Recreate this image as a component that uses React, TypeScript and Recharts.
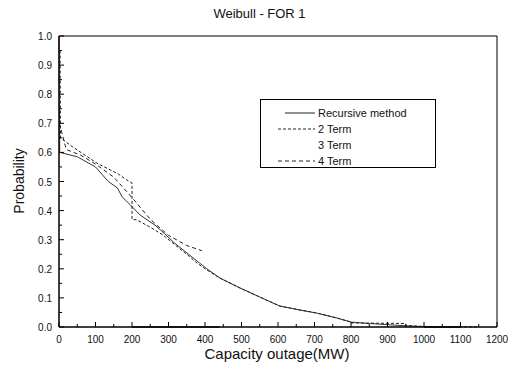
import { LineChart, Line, XAxis, YAxis, ReferenceArea } from 'recharts';

const xTicks = [0, 50, 100, 150, 200, 250, 300, 350, 400, 450, 500, 550, 600, 650, 700, 750, 800, 850, 900, 950, 1000, 1050, 1100, 1150, 1200];
const yTicks = [0, 0.05, 0.1, 0.15, 0.2, 0.25, 0.3, 0.35, 0.4, 0.45, 0.5, 0.55, 0.6, 0.65, 0.7, 0.75, 0.8, 0.85, 0.9, 0.95, 1.0];

// capacity outage (MW) / probability pairs
const recursiveX = [0, 2, 50, 100, 135, 160, 173, 195, 222, 263, 290, 315, 355, 385, 405, 441, 496, 550, 605, 660, 706, 761, 800, 850, 900, 950, 1000, 1100];
const recursiveP = [1.0, 0.6, 0.585, 0.55, 0.5, 0.478, 0.447, 0.42, 0.385, 0.35, 0.32, 0.29, 0.25, 0.22, 0.2, 0.168, 0.134, 0.103, 0.072, 0.058, 0.048, 0.031, 0.017, 0.012, 0.008, 0.004, 0.001, 0];

const term2X = [3, 4, 36, 104, 162, 186, 200, 200, 213, 250, 285, 320, 350, 378, 405, 441, 496, 550, 605, 706, 761, 800, 800, 950, 950, 1000, 1150];
const term2P = [0.95, 0.65, 0.62, 0.563, 0.526, 0.505, 0.495, 0.37, 0.368, 0.343, 0.316, 0.28, 0.25, 0.22, 0.196, 0.168, 0.134, 0.103, 0.072, 0.048, 0.031, 0.017, 0.014, 0.012, 0.005, 0.002, 0];

const term3X = [200, 440, 441, 1000, 1100];
const term3P = [0, 0, null, 0, 0];

const term4X = [1, 20, 60, 100, 150, 200, 250, 300, 350, 392];
const term4P = [0.7, 0.61, 0.59, 0.56, 0.515, 0.445, 0.37, 0.315, 0.28, 0.262];

const build = (xs: number[], ps: (number | null)[]) => xs.map((x, i) => ({ x, p: ps[i] }));

const fontFamily = 'Arial, "Liberation Sans", Helvetica, sans-serif';

const XTick = ({ x, y, payload }: any) => {
  const v = payload.value;
  const major = v % 100 === 0;
  return (
    <g>
      <line x1={x} x2={x} y1={y} y2={y - (major ? 5 : 3)} stroke="#000" strokeWidth={1} />
      {major && (
        <text x={x} y={y + 16} textAnchor="middle" fontSize={10} fill="#111" fontFamily={fontFamily}>
          {v}
        </text>
      )}
    </g>
  );
};

const YTick = ({ x, y, payload }: any) => {
  const v = payload.value;
  const major = Math.round(v * 100) % 10 === 0;
  return (
    <g>
      <line x1={x} x2={x + (major ? 5 : 3)} y1={y} y2={y} stroke="#000" strokeWidth={1} />
      {major && (
        <text x={x - 7} y={y + 4} textAnchor="end" fontSize={10} fill="#111" fontFamily={fontFamily}>
          {v.toFixed(1)}
        </text>
      )}
    </g>
  );
};

const legendRows = [
  { name: 'Recursive method', dash: undefined as string | undefined, x1: 285, show: true },
  { name: '2 Term', dash: '3 2', x1: 278, show: true },
  { name: '3 Term', dash: '1 3', x1: 285, show: false },
  { name: '4 Term', dash: '4 3', x1: 278, show: true },
];

export default function App() {
  return (
    <div style={{ position: 'absolute', left: 0, top: 0, width: 519, height: 374, background: '#fff', fontFamily }}>
      <div style={{ position: 'absolute', left: 0, width: 519, top: 6, textAlign: 'center', fontSize: 13, color: '#111' }}>
        Weibull - FOR 1
      </div>
      <div
        style={{
          position: 'absolute',
          left: 19,
          top: 181,
          transform: 'translate(-50%, -50%) rotate(-90deg)',
          fontSize: 14,
          color: '#111',
          whiteSpace: 'nowrap',
        }}
      >
        Probability
      </div>
      <div style={{ position: 'absolute', left: 0, width: 554, textAlign: 'center', top: 345, fontSize: 15, color: '#111' }}>
        Capacity outage(MW)
      </div>
      <LineChart width={519} height={374} margin={{ top: 36, right: 22, bottom: 27, left: 29 }}>
        <XAxis
          type="number"
          dataKey="x"
          domain={[0, 1200]}
          ticks={xTicks}
          interval={0}
          tickLine={false}
          tickSize={0}
          tickMargin={0}
          height={20}
          stroke="#000"
          tick={<XTick />}
          allowDuplicatedCategory={false}
        />
        <YAxis
          type="number"
          dataKey="p"
          domain={[0, 1]}
          ticks={yTicks}
          interval={0}
          tickLine={false}
          tickSize={0}
          tickMargin={0}
          width={30}
          stroke="#000"
          tick={<YTick />}
        />
        <ReferenceArea x1={0} x2={1200} y1={0} y2={1} fill="none" stroke="#000" strokeWidth={1} ifOverflow="visible" />
        <Line data={build(recursiveX, recursiveP)} dataKey="p" type="linear" stroke="#333" strokeWidth={1} dot={false} isAnimationActive={false} />
        <Line data={build(term2X, term2P)} dataKey="p" type="linear" stroke="#222" strokeWidth={1} strokeDasharray="3 2" dot={false} isAnimationActive={false} />
        <Line data={build(term3X, term3P)} dataKey="p" type="linear" stroke="#111" strokeWidth={1.5} dot={false} isAnimationActive={false} connectNulls={false} />
        <Line data={build(term4X, term4P)} dataKey="p" type="linear" stroke="#222" strokeWidth={1} strokeDasharray="4 3" dot={false} isAnimationActive={false} />
      </LineChart>
      <svg style={{ position: 'absolute', left: 0, top: 0 }} width={519} height={374}>
        <rect x={260.5} y={99.5} width={175} height={68} fill="#fff" stroke="#000" strokeWidth={1} />
        {legendRows.map((r, i) => {
          const y = 113 + i * 16;
          return (
            <g key={r.name}>
              {r.show && <line x1={r.x1} x2={315} y1={y} y2={y} stroke="#222" strokeWidth={1} strokeDasharray={r.dash} />}
              <text x={318} y={y + 4} fontSize={11} fill="#111" fontFamily={fontFamily}>
                {r.name}
              </text>
            </g>
          );
        })}
      </svg>
    </div>
  );
}
